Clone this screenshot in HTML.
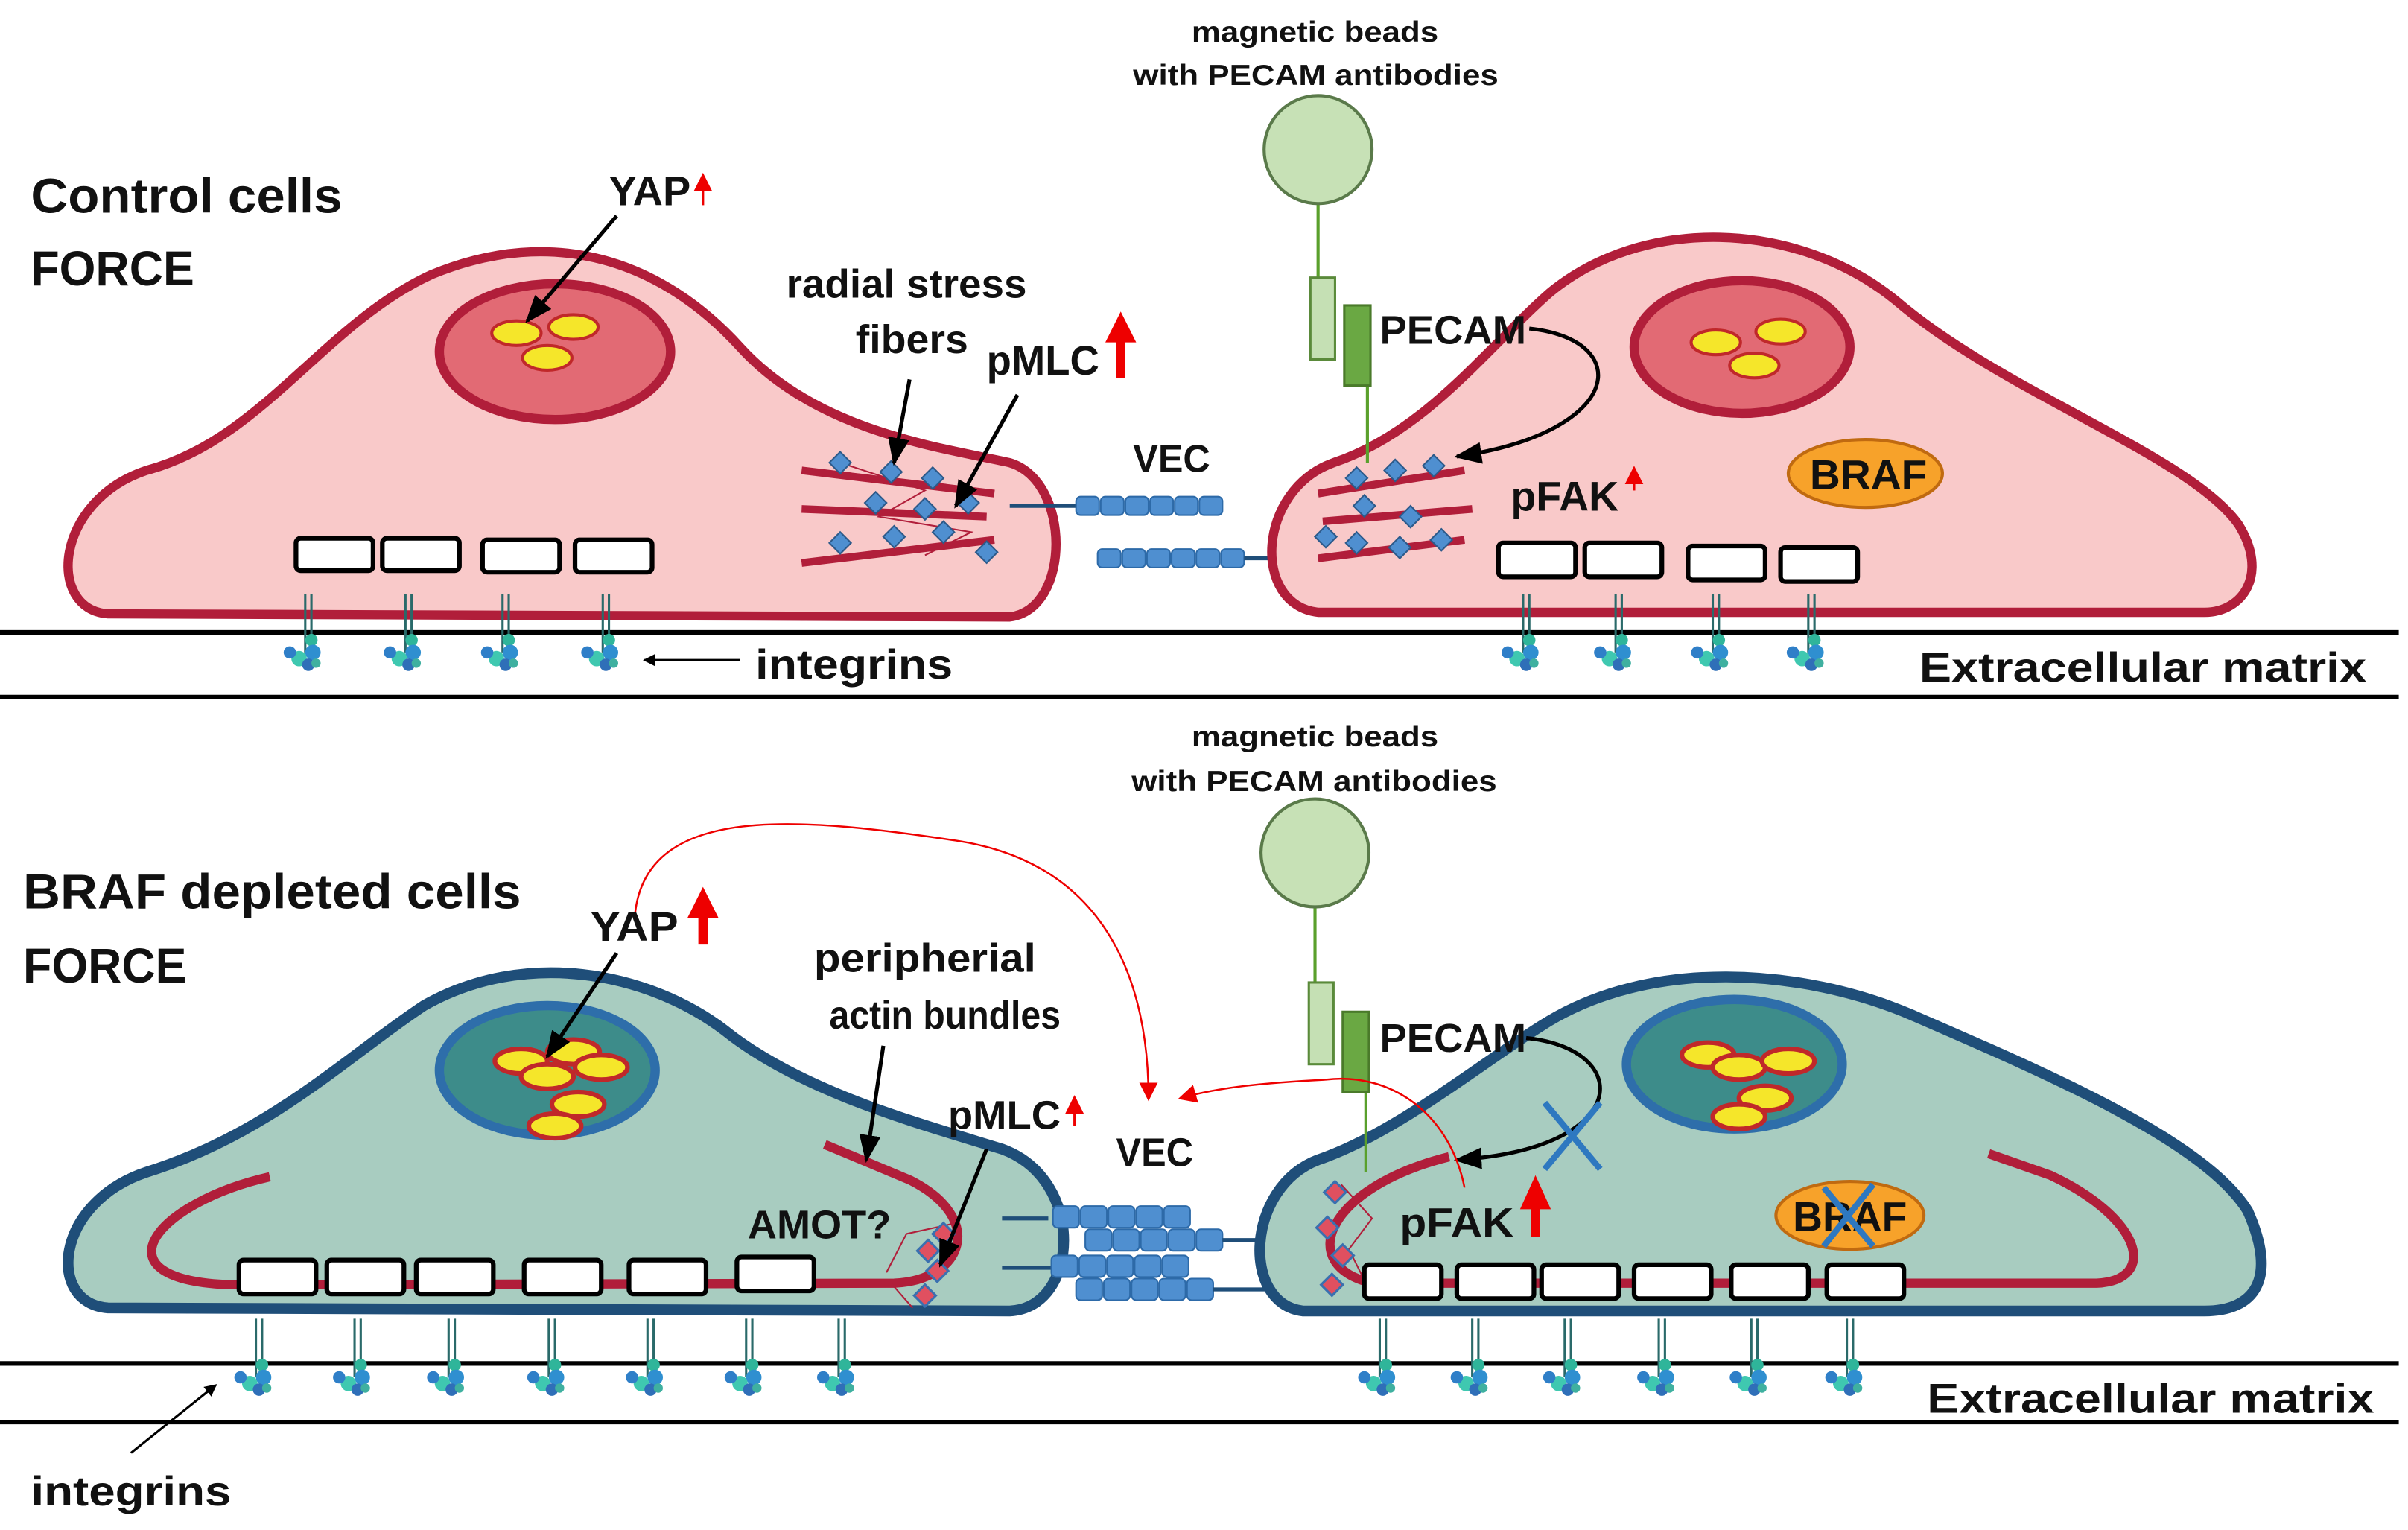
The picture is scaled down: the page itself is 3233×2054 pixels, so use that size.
<!DOCTYPE html>
<html><head><meta charset="utf-8"><style>
html,body{margin:0;padding:0;background:#fff}
svg{display:block}
text{font-family:"Liberation Sans",sans-serif;font-weight:bold;fill:#111}
</style></head><body>
<svg width="3233" height="2054" viewBox="0 0 1562 992" preserveAspectRatio="none" xmlns="http://www.w3.org/2000/svg">
<defs>
<g id="itg">
<line x1="-2" y1="0" x2="-2" y2="38" stroke="#2a6a6a" stroke-width="1.5"/>
<line x1="2" y1="0" x2="2" y2="38" stroke="#2a6a6a" stroke-width="1.5"/>
<circle cx="2" cy="30" r="4" fill="#2fb59a"/><circle cx="3" cy="38" r="5" fill="#2f8fd0"/>
<circle cx="-6" cy="42" r="5" fill="#3fc8b0"/><circle cx="-12" cy="38" r="4" fill="#2f7fc8"/>
<circle cx="0" cy="46" r="4" fill="#2f6fb8"/><circle cx="5" cy="45" r="3" fill="#3fb0a0"/>
</g>
<marker id="ab" markerWidth="8" markerHeight="8" refX="7" refY="4" orient="auto" markerUnits="userSpaceOnUse"><path d="M0,0 L8,4 L0,8 Z" fill="#000"/></marker>
<marker id="abk" markerWidth="18" markerHeight="14" refX="16" refY="7" orient="auto" markerUnits="userSpaceOnUse"><path d="M0,0 L18,7 L0,14 Z" fill="#000"/></marker>
<marker id="ar" markerWidth="12" markerHeight="12" refX="10" refY="6" orient="auto" markerUnits="userSpaceOnUse"><path d="M0,0 L12,6 L0,12 Z" fill="#e00"/></marker>
<g id="vb"><rect x="0" y="-6" width="15" height="12" rx="3" fill="#4f8fd0" stroke="#2d6aa8" stroke-width="1"/></g>
<g id="vb2"><rect x="0" y="-7" width="17" height="14" rx="3" fill="#4f8fd0" stroke="#2d6aa8" stroke-width="1"/></g>
<g id="dm"><rect x="-5" y="-5" width="10" height="10" transform="rotate(45)" fill="#4f8fd0" stroke="#2d5a8a" stroke-width="1"/></g>
<g id="dr"><rect x="-5" y="-5" width="10" height="10" transform="rotate(45)" fill="#e05060" stroke="#3a70b0" stroke-width="1.5"/></g>
</defs>

<line x1="0" y1="410" x2="1556" y2="410" stroke="#000" stroke-width="3"/>
<line x1="0" y1="452" x2="1556" y2="452" stroke="#000" stroke-width="3"/>
<line x1="0" y1="884" x2="1556" y2="884" stroke="#000" stroke-width="3"/>
<line x1="0" y1="922" x2="1556" y2="922" stroke="#000" stroke-width="3"/>

<!-- TOP PANEL -->
<text x="20" y="138" font-size="32" textLength="202" lengthAdjust="spacingAndGlyphs">Control cells</text>
<text x="20" y="185" font-size="32" textLength="106" lengthAdjust="spacingAndGlyphs">FORCE</text>
<text x="773" y="27" font-size="19" textLength="160" lengthAdjust="spacingAndGlyphs">magnetic beads</text>
<text x="735" y="55" font-size="19" textLength="237" lengthAdjust="spacingAndGlyphs">with PECAM antibodies</text>

<path d="M70,398 C30,395 35,325 95,305 C170,285 210,210 280,178 C360,145 430,170 480,225 C530,280 610,290 655,300 C695,312 695,395 655,400 Z" fill="#f9c9c9" stroke="#b11e3a" stroke-width="6"/>
<ellipse cx="360" cy="228" rx="75" ry="44" fill="#e26a74" stroke="#b11e3a" stroke-width="6"/>
<ellipse cx="335" cy="216" rx="16" ry="8" fill="#f5e62a" stroke="#c0282a" stroke-width="2"/>
<ellipse cx="372" cy="212" rx="16" ry="8" fill="#f5e62a" stroke="#c0282a" stroke-width="2"/>
<ellipse cx="355" cy="232" rx="16" ry="8" fill="#f5e62a" stroke="#c0282a" stroke-width="2"/>
<g fill="#fff" stroke="#000" stroke-width="3">
<rect x="192" y="349" width="50" height="21" rx="3"/><rect x="248" y="349" width="50" height="21" rx="3"/>
<rect x="313" y="350" width="50" height="21" rx="3"/><rect x="373" y="350" width="50" height="21" rx="3"/>
</g>
<g stroke="#b11e3a" stroke-width="5">
<line x1="520" y1="305" x2="645" y2="320"/><line x1="520" y1="330" x2="640" y2="335"/><line x1="520" y1="365" x2="645" y2="350"/>
</g>
<g stroke="#b11e3a" stroke-width="1" fill="none"><path d="M545,300 L600,318 L570,335 L630,345 L600,360"/></g>
<use href="#dm" x="545" y="300"/><use href="#dm" x="578" y="306"/><use href="#dm" x="605" y="310"/>
<use href="#dm" x="568" y="326"/><use href="#dm" x="600" y="330"/><use href="#dm" x="628" y="326"/>
<use href="#dm" x="545" y="352"/><use href="#dm" x="580" y="348"/><use href="#dm" x="612" y="345"/><use href="#dm" x="640" y="358"/>
<line x1="655" y1="328" x2="698" y2="328" stroke="#1f4e79" stroke-width="2.5"/>
<use href="#vb" x="698" y="328"/><use href="#vb" x="714" y="328"/><use href="#vb" x="730" y="328"/><use href="#vb" x="746" y="328"/><use href="#vb" x="762" y="328"/><use href="#vb" x="778" y="328"/>
<use href="#vb" x="712" y="362"/><use href="#vb" x="728" y="362"/><use href="#vb" x="744" y="362"/><use href="#vb" x="760" y="362"/><use href="#vb" x="776" y="362"/><use href="#vb" x="792" y="362"/>
<line x1="807" y1="362" x2="852" y2="362" stroke="#1f4e79" stroke-width="2.5"/>
<text x="735" y="306" font-size="25" textLength="50" lengthAdjust="spacingAndGlyphs">VEC</text>

<path d="M855,397 C812,392 815,318 865,300 C925,280 965,225 1005,190 C1065,140 1165,142 1230,195 C1300,255 1420,295 1452,340 C1472,372 1455,397 1430,397 Z" fill="#f9c9c9" stroke="#b11e3a" stroke-width="6"/>
<ellipse cx="1130" cy="225" rx="70" ry="43" fill="#e26a74" stroke="#b11e3a" stroke-width="6"/>
<ellipse cx="1113" cy="222" rx="16" ry="8" fill="#f5e62a" stroke="#c0282a" stroke-width="2"/>
<ellipse cx="1155" cy="215" rx="16" ry="8" fill="#f5e62a" stroke="#c0282a" stroke-width="2"/>
<ellipse cx="1138" cy="237" rx="16" ry="8" fill="#f5e62a" stroke="#c0282a" stroke-width="2"/>
<ellipse cx="1210" cy="307" rx="50" ry="22" fill="#f7a22a" stroke="#c06a10" stroke-width="2"/>
<text x="1174" y="317" font-size="27" textLength="76" lengthAdjust="spacingAndGlyphs">BRAF</text>
<g stroke="#b11e3a" stroke-width="5">
<line x1="855" y1="320" x2="950" y2="305"/><line x1="858" y1="338" x2="955" y2="330"/><line x1="855" y1="362" x2="950" y2="350"/>
</g>
<use href="#dm" x="880" y="310"/><use href="#dm" x="905" y="305"/><use href="#dm" x="930" y="302"/>
<use href="#dm" x="885" y="328"/><use href="#dm" x="915" y="335"/><use href="#dm" x="880" y="352"/><use href="#dm" x="908" y="355"/><use href="#dm" x="935" y="350"/><use href="#dm" x="860" y="348"/>
<g fill="#fff" stroke="#000" stroke-width="3">
<rect x="972" y="352" width="50" height="22" rx="3"/><rect x="1028" y="352" width="50" height="22" rx="3"/>
<rect x="1095" y="354" width="50" height="22" rx="3"/><rect x="1155" y="355" width="50" height="22" rx="3"/>
</g>
<text x="980" y="331" font-size="27" textLength="70" lengthAdjust="spacingAndGlyphs">pFAK</text>
<path d="M1060,318 L1060,304" stroke="#e00" stroke-width="1.5" marker-end="url(#ar)"/>
<line x1="855" y1="132" x2="855" y2="180" stroke="#5aa02c" stroke-width="2"/>
<line x1="887" y1="250" x2="887" y2="300" stroke="#5aa02c" stroke-width="2"/>
<circle cx="855" cy="97" r="35" fill="#c7e1b6" stroke="#5a7a4a" stroke-width="2"/>
<rect x="850" y="180" width="16" height="53" fill="#c5e0b4" stroke="#5a8a3a" stroke-width="1.5"/>
<rect x="872" y="198" width="17" height="52" fill="#6aa843" stroke="#4a7a2a" stroke-width="1.5"/>
<text x="895" y="223" font-size="26" textLength="95" lengthAdjust="spacingAndGlyphs">PECAM</text>
<path d="M992,213 C1060,220 1055,280 945,296" fill="none" stroke="#000" stroke-width="2.5" marker-end="url(#abk)"/>
<text x="395" y="133" font-size="27" textLength="53" lengthAdjust="spacingAndGlyphs">YAP</text>
<path d="M456,133 L456,114" stroke="#e00" stroke-width="1.5" marker-end="url(#ar)"/>
<line x1="400" y1="140" x2="342" y2="208" stroke="#000" stroke-width="2.5" marker-end="url(#abk)"/>
<text x="510" y="193" font-size="26" textLength="156" lengthAdjust="spacingAndGlyphs">radial stress</text>
<text x="555" y="229" font-size="26" textLength="73" lengthAdjust="spacingAndGlyphs">fibers</text>
<line x1="590" y1="246" x2="580" y2="300" stroke="#000" stroke-width="2.5" marker-end="url(#abk)"/>
<text x="640" y="243" font-size="27" textLength="73" lengthAdjust="spacingAndGlyphs">pMLC</text>
<path d="M727,245 L727,218" stroke="#e00" stroke-width="6"/><path d="M717,222 L727,202 L737,222 Z" fill="#e00"/>
<line x1="660" y1="256" x2="620" y2="328" stroke="#000" stroke-width="2.5" marker-end="url(#abk)"/>
<use href="#itg" x="200" y="385"/><use href="#itg" x="265" y="385"/><use href="#itg" x="328" y="385"/><use href="#itg" x="393" y="385"/>
<use href="#itg" x="990" y="385"/><use href="#itg" x="1050" y="385"/><use href="#itg" x="1113" y="385"/><use href="#itg" x="1175" y="385"/>
<line x1="480" y1="428" x2="418" y2="428" stroke="#000" stroke-width="1.5" marker-end="url(#ab)"/>
<text x="490" y="440" font-size="27" textLength="128" lengthAdjust="spacingAndGlyphs">integrins</text>
<text x="1245" y="442" font-size="27" textLength="290" lengthAdjust="spacingAndGlyphs">Extracellular matrix</text>

<!-- BOTTOM PANEL -->
<text x="15" y="589" font-size="32" textLength="323" lengthAdjust="spacingAndGlyphs">BRAF depleted cells</text>
<text x="15" y="637" font-size="32" textLength="106" lengthAdjust="spacingAndGlyphs">FORCE</text>
<text x="773" y="484" font-size="19" textLength="160" lengthAdjust="spacingAndGlyphs">magnetic beads</text>
<text x="734" y="513" font-size="19" textLength="237" lengthAdjust="spacingAndGlyphs">with PECAM antibodies</text>

<path d="M70,848 C30,845 35,780 95,760 C175,735 225,685 275,652 C340,615 420,630 470,668 C520,708 595,728 650,745 C705,765 700,848 655,850 Z" fill="#a8ccc0" stroke="#1f4e79" stroke-width="7"/>
<ellipse cx="355" cy="694" rx="70" ry="42" fill="#3d8c8a" stroke="#2e6eaa" stroke-width="6"/>
<g fill="#f5e62a" stroke="#c0282a" stroke-width="3">
<ellipse cx="338" cy="688" rx="17" ry="8"/><ellipse cx="372" cy="682" rx="17" ry="8"/><ellipse cx="390" cy="692" rx="17" ry="8"/>
<ellipse cx="355" cy="698" rx="17" ry="8"/><ellipse cx="375" cy="716" rx="17" ry="8"/><ellipse cx="360" cy="730" rx="17" ry="8"/>
</g>
<path d="M175,763 C100,780 60,830 150,833 L580,832 C625,830 640,790 590,765 L535,742" fill="none" stroke="#b11e3a" stroke-width="6"/>
<g fill="#fff" stroke="#000" stroke-width="3">
<rect x="155" y="817" width="50" height="22" rx="3"/><rect x="212" y="817" width="50" height="22" rx="3"/><rect x="270" y="817" width="50" height="22" rx="3"/>
<rect x="340" y="817" width="50" height="22" rx="3"/><rect x="408" y="817" width="50" height="22" rx="3"/><rect x="478" y="815" width="50" height="22" rx="3"/>
</g>
<path d="M575,825 L588,800 L620,793 M578,832 L592,848" stroke="#b11e3a" stroke-width="1" fill="none"/>
<use href="#dr" x="612" y="800"/><use href="#dr" x="602" y="811"/><use href="#dr" x="608" y="824"/><use href="#dr" x="600" y="840"/>
<line x1="650" y1="790" x2="680" y2="790" stroke="#1f4e79" stroke-width="2.5"/>
<line x1="650" y1="822" x2="683" y2="822" stroke="#1f4e79" stroke-width="2.5"/>
<use href="#vb2" x="683" y="789"/><use href="#vb2" x="701" y="789"/><use href="#vb2" x="719" y="789"/><use href="#vb2" x="737" y="789"/><use href="#vb2" x="755" y="789"/>
<use href="#vb2" x="704" y="804"/><use href="#vb2" x="722" y="804"/><use href="#vb2" x="740" y="804"/><use href="#vb2" x="758" y="804"/><use href="#vb2" x="776" y="804"/>
<use href="#vb2" x="682" y="821"/><use href="#vb2" x="700" y="821"/><use href="#vb2" x="718" y="821"/><use href="#vb2" x="736" y="821"/><use href="#vb2" x="754" y="821"/>
<use href="#vb2" x="698" y="836"/><use href="#vb2" x="716" y="836"/><use href="#vb2" x="734" y="836"/><use href="#vb2" x="752" y="836"/><use href="#vb2" x="770" y="836"/>
<line x1="793" y1="804" x2="843" y2="804" stroke="#1f4e79" stroke-width="2.5"/>
<line x1="787" y1="836" x2="838" y2="836" stroke="#1f4e79" stroke-width="2.5"/>

<path d="M845,850 C805,845 808,770 855,752 C905,735 960,690 1000,665 C1070,620 1170,628 1240,658 C1330,697 1430,740 1458,785 C1478,830 1462,850 1430,850 Z" fill="#a8ccc0" stroke="#1f4e79" stroke-width="7"/>
<ellipse cx="1125" cy="690" rx="70" ry="42" fill="#3d8c8a" stroke="#2e6eaa" stroke-width="6"/>
<g fill="#f5e62a" stroke="#c0282a" stroke-width="3">
<ellipse cx="1108" cy="684" rx="17" ry="8"/><ellipse cx="1128" cy="692" rx="17" ry="8"/><ellipse cx="1160" cy="688" rx="17" ry="8"/>
<ellipse cx="1145" cy="712" rx="17" ry="8"/><ellipse cx="1128" cy="724" rx="17" ry="8"/>
</g>
<path d="M940,750 C860,770 840,820 890,832 L1360,832 C1400,830 1390,790 1330,762 L1290,748" fill="none" stroke="#b11e3a" stroke-width="6"/>
<path d="M870,768 L890,790 L875,810 L885,830" stroke="#b11e3a" stroke-width="1" fill="none"/>
<use href="#dr" x="866" y="773"/><use href="#dr" x="861" y="796"/><use href="#dr" x="871" y="814"/><use href="#dr" x="864" y="833"/>
<g fill="#fff" stroke="#000" stroke-width="3">
<rect x="885" y="820" width="50" height="22" rx="3"/><rect x="945" y="820" width="50" height="22" rx="3"/><rect x="1000" y="820" width="50" height="22" rx="3"/>
<rect x="1060" y="820" width="50" height="22" rx="3"/><rect x="1123" y="820" width="50" height="22" rx="3"/><rect x="1185" y="820" width="50" height="22" rx="3"/>
</g>
<ellipse cx="1200" cy="788" rx="48" ry="22" fill="#f7a22a" stroke="#c06a10" stroke-width="2"/>
<text x="1163" y="798" font-size="27" textLength="74" lengthAdjust="spacingAndGlyphs">BRAF</text>
<path d="M1183,770 L1215,808 M1215,768 L1183,808" stroke="#2e78c0" stroke-width="4"/>
<text x="908" y="802" font-size="27" textLength="74" lengthAdjust="spacingAndGlyphs">pFAK</text>
<path d="M996,802 L996,780" stroke="#e00" stroke-width="6"/><path d="M986,784 L996,762 L1006,784 Z" fill="#e00"/>
<line x1="853" y1="588" x2="853" y2="637" stroke="#5aa02c" stroke-width="2"/>
<line x1="886" y1="708" x2="886" y2="760" stroke="#5aa02c" stroke-width="2"/>
<circle cx="853" cy="553" r="35" fill="#c7e1b6" stroke="#5a7a4a" stroke-width="2"/>
<rect x="849" y="637" width="16" height="53" fill="#c5e0b4" stroke="#5a8a3a" stroke-width="1.5"/>
<rect x="871" y="656" width="17" height="52" fill="#6aa843" stroke="#4a7a2a" stroke-width="1.5"/>
<text x="895" y="682" font-size="26" textLength="95" lengthAdjust="spacingAndGlyphs">PECAM</text>
<path d="M990,673 C1060,680 1060,745 945,752" fill="none" stroke="#000" stroke-width="2.5" marker-end="url(#abk)"/>
<path d="M1002,715 L1038,758 M1038,715 L1002,758" stroke="#2e78c0" stroke-width="4"/>
<path d="M412,592 C420,520 520,530 620,545 C720,560 745,640 745,712" fill="none" stroke="#e00" stroke-width="1.2" marker-end="url(#ar)"/>
<path d="M950,770 C940,720 900,695 860,700 C820,702 790,705 766,712" fill="none" stroke="#e00" stroke-width="1.2" marker-end="url(#ar)"/>
<text x="383" y="610" font-size="27" textLength="57" lengthAdjust="spacingAndGlyphs">YAP</text>
<path d="M456,612 L456,592" stroke="#e00" stroke-width="6"/><path d="M446,595 L456,575 L466,595 Z" fill="#e00"/>
<line x1="400" y1="618" x2="355" y2="685" stroke="#000" stroke-width="2.5" marker-end="url(#abk)"/>
<text x="528" y="630" font-size="26" textLength="144" lengthAdjust="spacingAndGlyphs">peripherial</text>
<text x="538" y="667" font-size="26" textLength="150" lengthAdjust="spacingAndGlyphs">actin bundles</text>
<line x1="573" y1="678" x2="562" y2="752" stroke="#000" stroke-width="2.5" marker-end="url(#abk)"/>
<text x="615" y="732" font-size="26" textLength="73" lengthAdjust="spacingAndGlyphs">pMLC</text>
<path d="M697,730 L697,712" stroke="#e00" stroke-width="1.5" marker-end="url(#ar)"/>
<line x1="640" y1="745" x2="610" y2="820" stroke="#000" stroke-width="2.5" marker-end="url(#abk)"/>
<text x="485" y="803" font-size="26" textLength="93" lengthAdjust="spacingAndGlyphs">AMOT?</text>
<text x="724" y="756" font-size="26" textLength="50" lengthAdjust="spacingAndGlyphs">VEC</text>
<use href="#itg" x="168" y="855"/><use href="#itg" x="232" y="855"/><use href="#itg" x="293" y="855"/><use href="#itg" x="358" y="855"/>
<use href="#itg" x="422" y="855"/><use href="#itg" x="486" y="855"/><use href="#itg" x="546" y="855"/>
<use href="#itg" x="897" y="855"/><use href="#itg" x="957" y="855"/><use href="#itg" x="1017" y="855"/><use href="#itg" x="1078" y="855"/>
<use href="#itg" x="1138" y="855"/><use href="#itg" x="1200" y="855"/>
<line x1="85" y1="942" x2="140" y2="898" stroke="#000" stroke-width="1.5" marker-end="url(#ab)"/>
<text x="20" y="976" font-size="27" textLength="130" lengthAdjust="spacingAndGlyphs">integrins</text>
<text x="1250" y="916" font-size="27" textLength="290" lengthAdjust="spacingAndGlyphs">Extracellular matrix</text>
</svg>
</body></html>
